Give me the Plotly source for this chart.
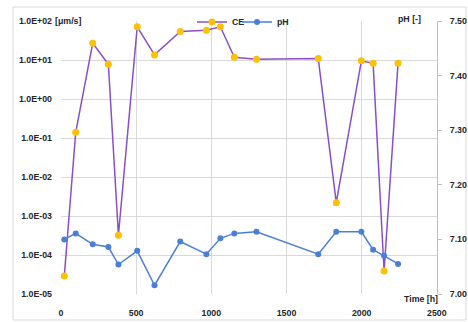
import plotly.graph_objects as go

# Sampling times [h]
time_h = [22, 98, 211, 315, 382, 507, 622, 793, 967, 1060, 1153, 1300,
          1711, 1831, 1998, 2076, 2149, 2242]
# CE values [um/s] (log axis)
ce_vals = [2.9e-5, 0.14, 27, 7.8, 3.2e-4, 71, 13.5, 54, 58, 71, 11.8, 10.5,
           11, 2.2e-3, 9.5, 8.2, 3.9e-5, 8.3]
# pH values [-]
ph_vals = [7.100, 7.111, 7.091, 7.086, 7.054, 7.079, 7.016, 7.096, 7.073,
           7.102, 7.111, 7.114, 7.073, 7.114, 7.114, 7.081, 7.070, 7.055]

# Axis tick labels
ce_tickvals = [1e-5, 1e-4, 1e-3, 1e-2, 1e-1, 1e0, 1e1, 1e2]
ce_ticktext = ["1.0E-05", "1.0E-04", "1.0E-03", "1.0E-02", "1.0E-01",
               "1.0E+00", "1.0E+01", "1.0E+02"]
ph_tickvals = [7.0, 7.1, 7.2, 7.3, 7.4, 7.5]
ph_ticktext = ["7.00", "7.10", "7.20", "7.30", "7.40", "7.50"]
time_tickvals = [0, 500, 1000, 1500, 2000, 2500]

W, H = 468, 322
L, R, T, B = 61, 31, 21, 28
pw, ph_ = W - L - R, H - T - B

FONT = "Liberation Sans"
tick_font = dict(family=FONT, size=8.8, color="#262626", weight="bold")
grid = "#d9d9d9"


def px_x(p):
    return (p - L) / pw


def px_y(p):
    return (H - B - p) / ph_


legend_font = dict(family=FONT, size=8.8, color="#262626", weight="bold")

fig = go.Figure()
fig.add_trace(go.Scatter(
    x=time_h, y=ce_vals, name="CE", mode="lines+markers",
    line=dict(color="#8a4fc4", width=1.5),
    marker=dict(color="#ffc000", size=7),
    yaxis="y", legend="legend"))
fig.add_trace(go.Scatter(
    x=time_h, y=ph_vals, name="pH", mode="lines+markers",
    line=dict(color="#4a7fd6", width=1.5),
    marker=dict(color="#4a7fd6", size=6),
    yaxis="y2", legend="legend2"))

fig.update_layout(
    width=W, height=H,
    margin=dict(l=L, r=R, t=T, b=B, autoexpand=False),
    paper_bgcolor="white", plot_bgcolor="white",
    showlegend=True,
    legend=dict(orientation="h", x=px_x(192), y=px_y(22), xanchor="left",
                yanchor="middle", font=legend_font,
                bgcolor="rgba(0,0,0,0)", itemwidth=30),
    legend2=dict(orientation="h", x=px_x(237), y=px_y(22), xanchor="left",
                 yanchor="middle", font=legend_font,
                 bgcolor="rgba(0,0,0,0)", itemwidth=30),
    xaxis=dict(range=[0, 2501], tickvals=time_tickvals, showgrid=True,
               gridcolor=grid, gridwidth=1, zeroline=False, showline=False,
               ticks="", tickfont=tick_font, ticklabelstandoff=12,
               automargin=False),
    yaxis=dict(type="log", range=[-5, 2], tickvals=ce_tickvals,
               ticktext=ce_ticktext, showgrid=True, gridcolor=grid,
               gridwidth=1, zeroline=False, showline=False, ticks="",
               tickfont=tick_font, ticklabelstandoff=8, automargin=False),
    yaxis2=dict(overlaying="y", side="right", range=[7.0, 7.5],
                tickvals=ph_tickvals, ticktext=ph_ticktext, showgrid=False,
                zeroline=False, showline=True, linecolor="#bfbfbf",
                ticks="outside", ticklen=4, tickcolor="#bfbfbf",
                tickfont=tick_font, ticklabelstandoff=6, automargin=False),
    shapes=[dict(type="rect", xref="paper", yref="paper",
                 x0=px_x(13), x1=px_x(466), y0=px_y(320), y1=px_y(7),
                 line=dict(color="#d9d9d9", width=1), layer="below")],
    annotations=[
        dict(text="[μm/s]", xref="paper", yref="paper", x=px_x(53),
             y=px_y(21), xanchor="left", yanchor="middle", showarrow=False,
             font=tick_font),
        dict(text="pH [-]", xref="paper", yref="paper", x=px_x(423),
             y=px_y(19), xanchor="right", yanchor="middle", showarrow=False,
             font=tick_font),
        dict(text="Time [h]", xref="paper", yref="paper", x=px_x(440),
             y=px_y(299), xanchor="right", yanchor="middle", showarrow=False,
             font=tick_font),
    ],
)

fig.write_html("out.html")
